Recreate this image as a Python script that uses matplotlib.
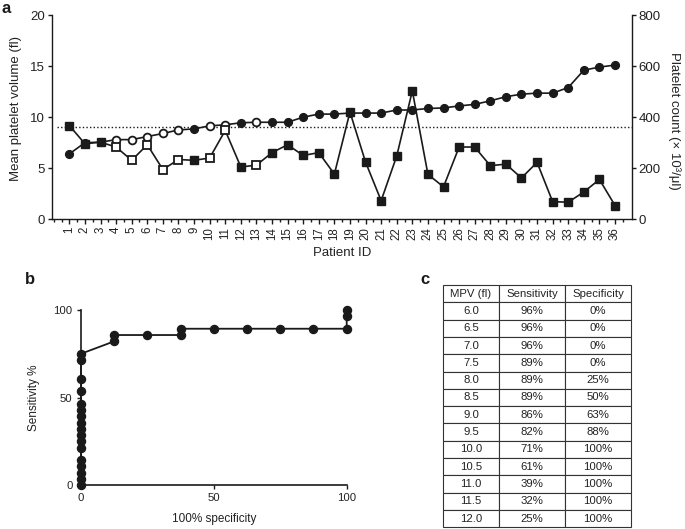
import matplotlib
matplotlib.use("Agg")
import matplotlib.pyplot as plt
from matplotlib.ticker import FixedLocator

plt.rcParams['font.family'] = ['Liberation Sans', 'DejaVu Sans']
plt.rcParams['axes.linewidth'] = 1.0

INK = '#1a1a1a'

# ---------------- data ----------------
patient_ids = list(range(1, 37))
mpv_fl = [6.4, 7.5, 7.55, 7.8, 7.8, 8.1, 8.4, 8.75, 8.85, 9.15, 9.25, 9.45,
          9.5, 9.5, 9.5, 10.0, 10.3, 10.3, 10.4, 10.4, 10.4, 10.7, 10.7, 10.85,
          10.9, 11.1, 11.25, 11.6, 12.0, 12.25, 12.35, 12.35, 12.9, 14.6, 14.9, 15.1]
platelet_count = [367, 296, 302, 283, 231, 292, 195, 234, 231, 240, 348, 205,
                  212, 261, 292, 250, 261, 177, 420, 224, 73, 248, 503, 176,
                  127, 283, 283, 210, 216, 162, 223, 69, 67, 107, 156, 54]
open_patients = [4, 5, 6, 7, 8, 10, 11, 13]
mpv_cutoff = 9.0

roc_fpr = [0, 0, 0, 0, 0, 0, 0, 0, 0, 0, 0, 0, 0, 0, 0, 0, 0,
           12.5, 12.5, 25, 37.5, 37.5, 50, 62.5, 75, 87.5, 100, 100, 100]
roc_tpr = [0, 3.6, 7.1, 10.7, 14.3, 21.4, 25.0, 28.6, 32.1, 35.7, 39.3, 42.9,
           46.4, 53.6, 60.7, 71.4, 75.0,
           82.1, 85.7, 85.7, 85.7, 89.3, 89.3, 89.3, 89.3, 89.3, 89.3, 96.4, 100]

table_header = ['MPV (fl)', 'Sensitivity', 'Specificity']
table_mpv = ['6.0', '6.5', '7.0', '7.5', '8.0', '8.5', '9.0', '9.5',
             '10.0', '10.5', '11.0', '11.5', '12.0']
table_sens = ['96%', '96%', '96%', '89%', '89%', '89%', '86%', '82%',
              '71%', '61%', '39%', '32%', '25%']
table_spec = ['0%', '0%', '0%', '0%', '25%', '50%', '63%', '88%',
              '100%', '100%', '100%', '100%', '100%']

# ---------------- figure ----------------
W, H = 685, 529
fig = plt.figure(figsize=(W / 100, H / 100), dpi=100)


def rect(l, t, r, b):
    return [l / W, 1 - b / H, (r - l) / W, (b - t) / H]


# ---------- panel a ----------
ax = fig.add_axes(rect(51.7, 15, 631.7, 219.3))
ax2 = ax.twinx()
ax.set_xlim(-0.13, 37.07)
ax.set_ylim(0, 20)
ax2.set_ylim(0, 800)

ax.plot(patient_ids, mpv_fl, '-', color=INK, lw=1.2, zorder=3)
ax2.plot(patient_ids, platelet_count, '-', color=INK, lw=1.2, zorder=3)

closed_c = [(p, v) for p, v in zip(patient_ids, mpv_fl) if p not in open_patients]
open_c = [(p, v) for p, v in zip(patient_ids, mpv_fl) if p in open_patients]
ax.plot([p for p, _ in closed_c], [v for _, v in closed_c], 'o', ms=5.6,
        color=INK, mec=INK, zorder=4, clip_on=False)
ax.plot([p for p, _ in open_c], [v for _, v in open_c], 'o', ms=5.6,
        mfc='white', mec=INK, mew=1.3, zorder=4, clip_on=False)

closed_s = [(p, v) for p, v in zip(patient_ids, platelet_count) if p not in open_patients]
open_s = [(p, v) for p, v in zip(patient_ids, platelet_count) if p in open_patients]
ax2.plot([p for p, _ in closed_s], [v for _, v in closed_s], 's', ms=5.4,
         color=INK, mec=INK, zorder=4, clip_on=False)
ax2.plot([p for p, _ in open_s], [v for _, v in open_s], 's', ms=5.4,
         mfc='white', mec=INK, mew=1.3, zorder=4, clip_on=False)

ax.hlines(mpv_cutoff, 0.2, 37.07, colors=INK, linestyles=(0, (1, 1.6)), lw=1.0, zorder=2)

for a in (ax, ax2):
    a.spines['top'].set_visible(False)
    for s in a.spines.values():
        s.set_color(INK)
ax.spines['right'].set_visible(False)
ax2.spines['left'].set_visible(False)
ax2.spines['bottom'].set_visible(False)

ax.set_xticks(patient_ids)
ax.set_xticklabels([str(p) for p in patient_ids], rotation=90, fontsize=8.3, color='#222222')
ax.xaxis.set_minor_locator(FixedLocator([p + 0.5 for p in range(0, 37)] + [0]))
ax.tick_params(axis='x', which='major', length=3.5, width=1.0, color=INK, pad=2)
ax.tick_params(axis='x', which='minor', length=2, width=1.0, color=INK)
ax.set_yticks([0, 5, 10, 15, 20])
ax.tick_params(axis='y', length=3, width=1.0, color=INK, labelsize=9.5, labelcolor='#222222', pad=2)
ax2.set_yticks([0, 200, 400, 600, 800])
ax2.tick_params(axis='y', length=3, width=1.0, color=INK, labelsize=9.5, labelcolor='#222222', pad=2)

ax.set_ylabel('Mean platelet volume (fl)', fontsize=9.5, color='#222222')
ax.yaxis.set_label_coords(-0.052, 0.54)
ax.set_xlabel('Patient ID', fontsize=9.5, color='#222222', labelpad=5)
ax2.set_ylabel('Platelet count (× 10³/μl)', fontsize=9.5, color='#222222', rotation=270)
ax2.yaxis.set_label_coords(1.084, 0.48)

# ---------- panel b ----------
bx = fig.add_axes(rect(81, 310, 346.7, 485))
bx.plot(roc_fpr, roc_tpr, '-o', color=INK, lw=1.3, ms=5.8, clip_on=False, zorder=3)
bx.set_xlim(0, 100)
bx.set_ylim(0, 100)
bx.set_xticks([0, 50, 100])
bx.set_yticks([0, 50, 100])
bx.spines['top'].set_visible(False)
bx.spines['right'].set_visible(False)
for s in bx.spines.values():
    s.set_color(INK)
    s.set_linewidth(1.2)
bx.tick_params(axis='both', length=3, width=1.0, color=INK, labelsize=8.2, labelcolor='#222222', pad=3)
bx.set_xlabel('100% specificity', fontsize=8.5, color='#222222', labelpad=7)
bx.set_ylabel('Sensitivity %', fontsize=8.5, color='#222222', labelpad=10)

# ---------- panel c (table) ----------
cx = fig.add_axes(rect(442.7, 285, 631, 527.3))
cx.axis('off')
cells = [[m, s, p] for m, s, p in zip(table_mpv, table_sens, table_spec)]
tbl = cx.table(cellText=cells, colLabels=table_header, cellLoc='center',
               colWidths=[0.300, 0.351, 0.349], bbox=[0, 0, 1, 1])
tbl.auto_set_font_size(False)
for (r, c), cell in tbl.get_celld().items():
    cell.set_edgecolor('#333333')
    cell.set_linewidth(0.8)
    cell.get_text().set_fontsize(8.2)
    cell.get_text().set_color('#222222')

# ---------- panel letters ----------
fig.text(2 / W, 1 - 13 / H, 'a', fontsize=12, fontweight='bold', color=INK)
fig.text(25 / W, 1 - 284 / H, 'b', fontsize=12, fontweight='bold', color=INK)
fig.text(420 / W, 1 - 284 / H, 'c', fontsize=12, fontweight='bold', color=INK)

fig.savefig('out.png', dpi=100)
